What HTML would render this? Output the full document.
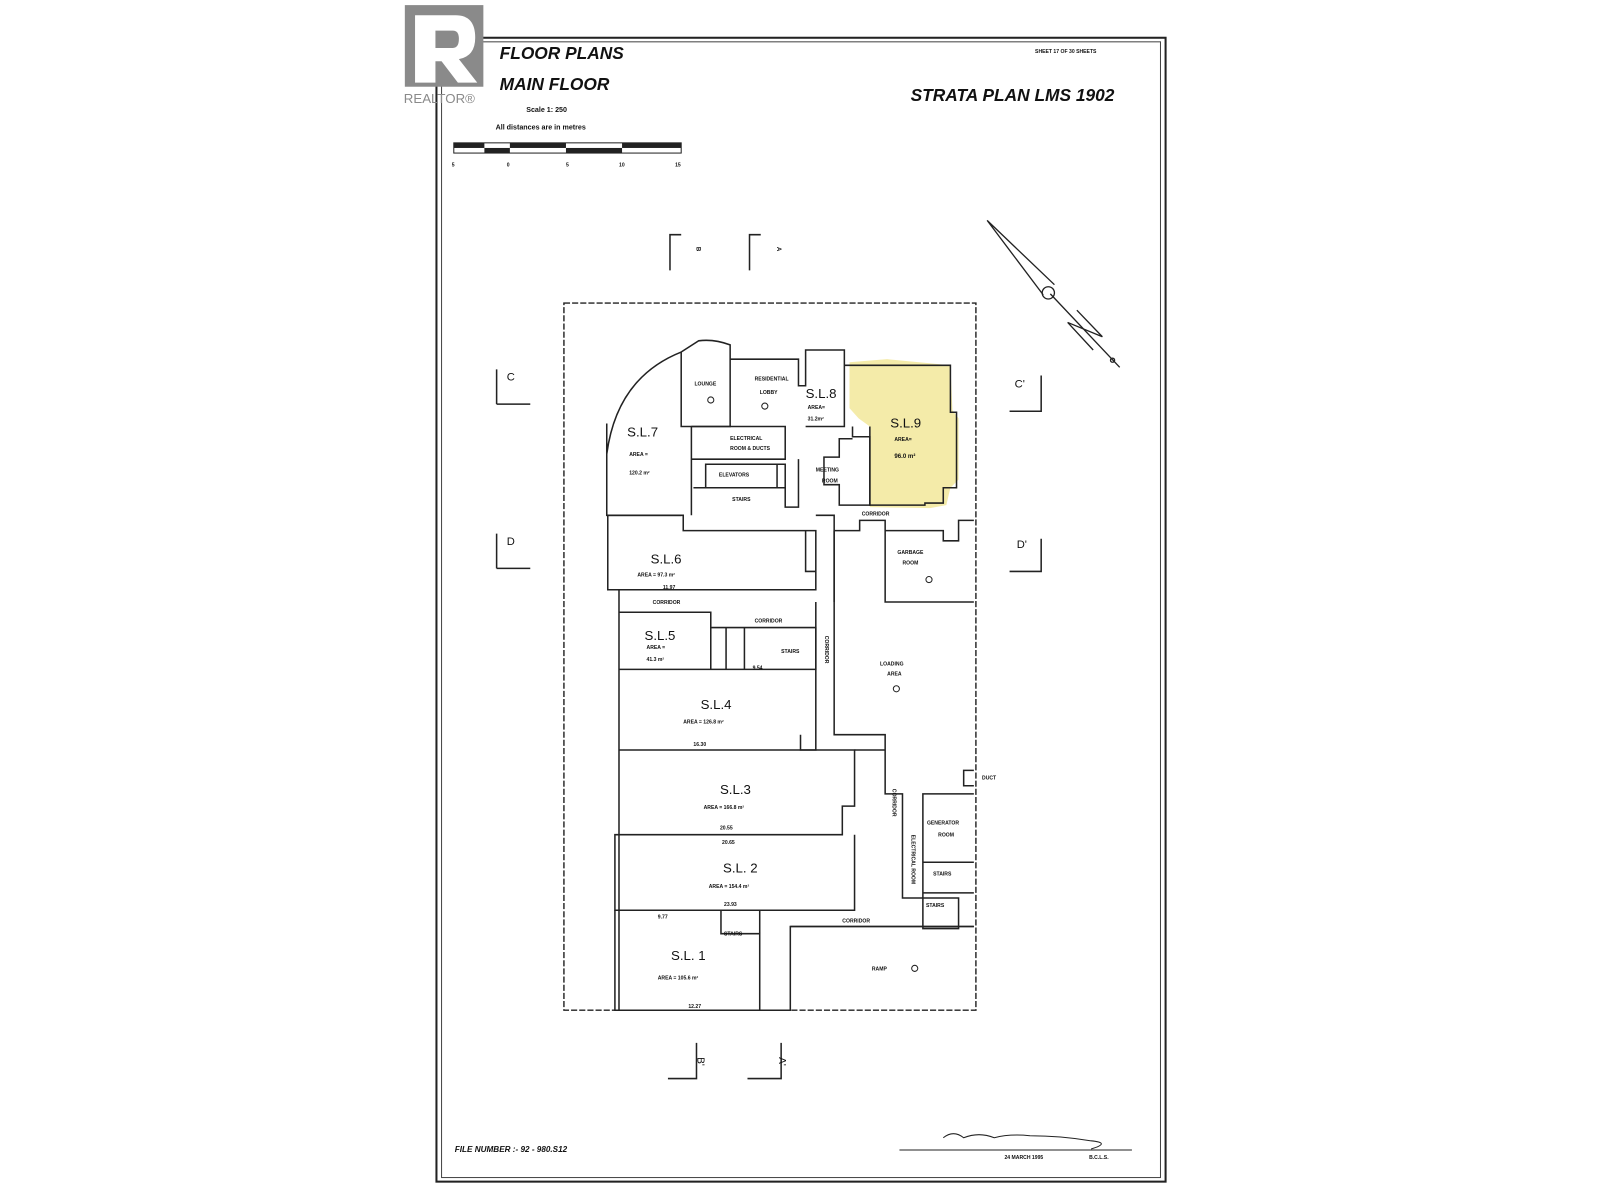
<!DOCTYPE html>
<html><head><meta charset="utf-8"><style>
html,body{margin:0;padding:0;background:#fff;}
svg{display:block}
text{font-family:"Liberation Sans",sans-serif;font-weight:bold;fill:#111}
.t{font-size:5px}
.n{font-size:6px}
.sl{font-size:13px;font-weight:normal}
</style></head><body>
<svg width="1600" height="1200" viewBox="0 0 1569 1176" preserveAspectRatio="none" xmlns="http://www.w3.org/2000/svg">
<rect width="1569" height="1176" fill="#fff"/>
<rect x="428" y="37" width="715" height="1121" fill="none" stroke="#222" stroke-width="2"/>
<rect x="433" y="41" width="705" height="1113" fill="none" stroke="#444" stroke-width="1"/>
<rect x="397" y="5" width="77" height="80" fill="#8a8a8a"/>
<path d="M407 15 H447 Q466 15 466 37 Q466 55 450 58 L468 81 H449 L433 60 H427 V81 H407 Z" fill="#fff"/>
<path d="M427 30 V47 H444 Q450 47 450 38 Q450 30 444 30 Z" fill="#8a8a8a"/>
<text x="396" y="101" style="font-size:13px;font-weight:normal;fill:#8a8a8a">REALTOR®</text>
<text x="490" y="58" style="font-size:17px;font-style:italic">FLOOR PLANS</text>
<text x="490" y="88" style="font-size:17px;font-style:italic">MAIN FLOOR</text>
<text x="516" y="110" style="font-size:7px">Scale 1: 250</text>
<text x="486" y="127" style="font-size:7px">All distances are in metres</text>
<rect x="445" y="140" width="223" height="10" fill="none" stroke="#222" stroke-width="1"/>
<rect x="445" y="140" width="30" height="5" fill="#222"/><rect x="475" y="145" width="25" height="5" fill="#222"/>
<rect x="500" y="140" width="55" height="5" fill="#222"/><rect x="555" y="145" width="55" height="5" fill="#222"/><rect x="610" y="140" width="58" height="5" fill="#222"/>
<text x="443" y="163" class="t">5</text><text x="497" y="163" class="t">0</text><text x="555" y="163" class="t">5</text><text x="607" y="163" class="t">10</text><text x="662" y="163" class="t">15</text>
<text x="1015" y="52" class="t">SHEET 17 OF 30 SHEETS</text>
<text x="893" y="99" style="font-size:17px;font-style:italic">STRATA PLAN LMS 1902</text>
<g stroke="#222" stroke-width="1.3" fill="none">
<path d="M968 216 L1023 289 M968 216 L1034 279 M1030 288 L1098 360"/>
<circle cx="1028" cy="287" r="6"/>
<path d="M1056 304 L1081 330 L1047 316 L1072 343"/>
<circle cx="1091" cy="353" r="2"/>
</g>
<g stroke="#222" stroke-width="1.5" fill="none">
<path d="M657 265 V230 H668"/><path d="M735 265 V230 H746"/>
<path d="M487 396 V362 M487 396 H520"/><path d="M990 403 H1021 V368"/>
<path d="M487 557 V523 M487 557 H520"/><path d="M990 560 H1021 V528"/>
<path d="M655 1057 H683 V1022"/><path d="M733 1057 H766 V1022"/>
</g>
<text x="683" y="242" class="n" transform="rotate(90 683 242)">B</text>
<text x="762" y="242" class="n" transform="rotate(90 762 242)">A</text>
<text x="497" y="373" style="font-size:11px;font-weight:normal">C</text>
<text x="995" y="380" style="font-size:11px;font-weight:normal">C'</text>
<text x="497" y="534" style="font-size:11px;font-weight:normal">D</text>
<text x="997" y="537" style="font-size:11px;font-weight:normal">D'</text>
<text x="676" y="1036" style="font-size:10px;font-weight:normal" transform="rotate(90 680 1040)">B'</text>
<text x="756" y="1036" style="font-size:10px;font-weight:normal" transform="rotate(90 760 1040)">A'</text>
<rect x="553" y="297" width="404" height="693" fill="none" stroke="#222" stroke-width="1.4" stroke-dasharray="6,2"/>
<path d="M833 355 L870 352 L932 358 L934 402 L940 410 L940 470 L932 478 L928 495 L912 498 L853 497 L853 418 L842 410 L833 400 Z" fill="#f3e9a0" opacity="0.9"/>
<g stroke="#222" stroke-width="1.5" fill="none">
<path d="M595 445 Q605 370 668 345 M595 415 V505 H668"/>
<path d="M668 345 V418 H716 V338 Q700 332 685 334 L668 345"/>
<path d="M716 352 H783 V378 H790 V343 H828 V418 H790 V418"/>
<path d="M828 358 H932 V404 H938 V478 H925 V493 H907 V495 H853 V428 H836 V418"/>
<path d="M853 418 V495 H823 V475 H808 V448 H823 V430 H836"/>
<path d="M678 418 H770 V450 H678"/>
<path d="M678 418 V505 M692 455 H770 V478 H692 Z M762 455 V478"/>
<path d="M680 478 H770 V497 H770 L783 497 V450"/>
<path d="M596 505 H670 V520 H800 V578 H596 Z"/>
<path d="M790 520 V560 H800 M800 505 H818 V590"/>
<path d="M607 578 V990 M607 600 H697 V656 H607 M697 615 H800 V656 H697 M712 615 V656 M730 615 V656"/>
<path d="M800 590 V735 H785 V720 M800 656 V700"/>
<path d="M607 735 H838 V790 H826 V818 H603 V892 H838 V818"/>
<path d="M603 892 V990 H775 V908 H955 M707 892 V915 H745 V892 M745 915 V990"/>
<path d="M818 590 V720 H868 V778 H885 V880 H905 V778 H955 M905 845 H955 M905 875 H955 M905 880 H940 V910 H905 Z"/>
<path d="M818 520 H843 V510 H868 V590 H955 M868 520 H925 V530 H940 V510 H955 M818 520 V590"/>
<path d="M838 735 H868 M955 755 H945 V770 H955"/>
<path d="M775 908 H955"/>
</g>
<text x="615" y="428" class="sl">S.L.7</text><text x="617" y="447" class="t">AREA =</text><text x="617" y="465" class="t">120.2 m²</text>
<text x="681" y="378" class="t">LOUNGE</text><circle cx="697" cy="392" r="3" fill="none" stroke="#222"/>
<text x="740" y="373" class="t">RESIDENTIAL</text><text x="745" y="386" class="t">LOBBY</text><circle cx="750" cy="398" r="3" fill="none" stroke="#222"/>
<text x="790" y="390" class="sl">S.L.8</text><text x="792" y="401" class="t">AREA=</text><text x="792" y="412" class="t">31.2m²</text>
<text x="873" y="419" class="sl">S.L.9</text><text x="877" y="432" class="t">AREA=</text><text x="877" y="449" class="n">96.0 m²</text>
<text x="716" y="431" class="t">ELECTRICAL</text><text x="716" y="441" class="t">ROOM &amp; DUCTS</text>
<text x="705" y="467" class="t">ELEVATORS</text><text x="718" y="491" class="t">STAIRS</text>
<text x="800" y="462" class="t">MEETING</text><text x="806" y="473" class="t">ROOM</text>
<text x="845" y="505" class="t">CORRIDOR</text>
<text x="638" y="552" class="sl">S.L.6</text><text x="625" y="565" class="t">AREA = 97.3 m²</text><text x="650" y="577" class="t">11.97</text>
<text x="640" y="592" class="t">CORRIDOR</text><text x="740" y="610" class="t">CORRIDOR</text>
<text x="632" y="627" class="sl">S.L.5</text><text x="634" y="636" class="t">AREA =</text><text x="634" y="648" class="t">41.3 m²</text>
<text x="766" y="640" class="t">STAIRS</text><text x="738" y="656" class="t">9.54</text>
<text x="687" y="695" class="sl">S.L.4</text><text x="670" y="709" class="t">AREA = 126.8 m²</text><text x="680" y="731" class="t">16.30</text>
<text x="706" y="778" class="sl">S.L.3</text><text x="690" y="793" class="t">AREA = 166.8 m²</text><text x="706" y="813" class="t">20.55</text>
<text x="708" y="827" class="t">20.65</text>
<text x="709" y="855" class="sl">S.L. 2</text><text x="695" y="870" class="t">AREA = 154.4 m²</text><text x="710" y="888" class="t">23.93</text>
<text x="658" y="941" class="sl">S.L. 1</text><text x="645" y="960" class="t">AREA = 105.6 m²</text><text x="675" y="988" class="t">12.27</text>
<text x="645" y="900" class="t">9.77</text><text x="710" y="917" class="t">STAIRS</text>
<text x="880" y="543" class="t">GARBAGE</text><text x="885" y="553" class="t">ROOM</text><circle cx="911" cy="568" r="3" fill="none" stroke="#222"/>
<text x="863" y="652" class="t">LOADING</text><text x="870" y="662" class="t">AREA</text><circle cx="879" cy="675" r="3" fill="none" stroke="#222"/>
<text x="909" y="808" class="t">GENERATOR</text><text x="920" y="820" class="t">ROOM</text>
<text x="915" y="858" class="t">STAIRS</text><text x="908" y="889" class="t">STAIRS</text>
<text x="826" y="904" class="t">CORRIDOR</text><text x="963" y="764" class="t">DUCT</text>
<text x="855" y="951" class="t">RAMP</text><circle cx="897" cy="949" r="3" fill="none" stroke="#222"/>
<text x="815" y="623" class="t" transform="rotate(90 812 620)">CORRIDOR</text>
<text x="878" y="770" class="t" transform="rotate(90 875 770)">CORRIDOR</text>
<text x="897" y="815" class="t" transform="rotate(90 894 815)">ELECTRICAL ROOM</text>
<text x="446" y="1129" style="font-size:8px;font-style:italic">FILE NUMBER :- 92 - 980.S12</text>
<path d="M882 1127 H1110 M925 1115 q10 -8 20 0 q15 -6 30 0 q15 -4 35 -2 q30 0 60 5 q20 2 0 8" stroke="#222" fill="none" stroke-width="1"/>
<text x="985" y="1136" class="t">24 MARCH 1995</text><text x="1068" y="1136" class="t">B.C.L.S.</text>
</svg>
</body></html>
